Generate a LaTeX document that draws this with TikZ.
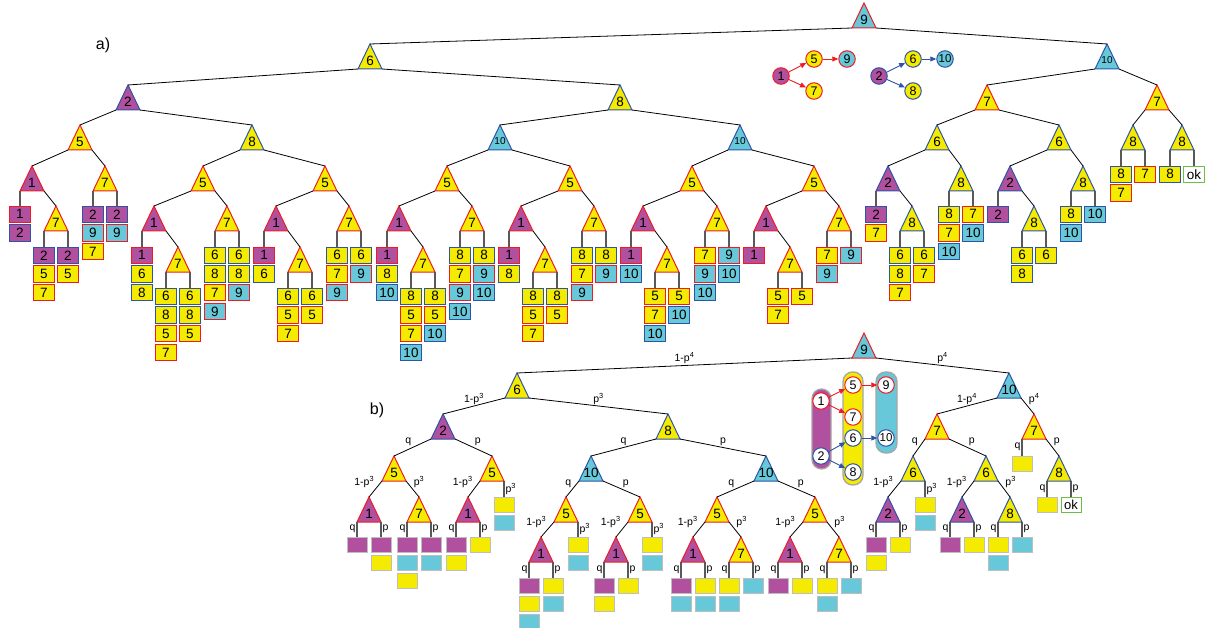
\documentclass[tikz,border=0pt]{standalone}
\usepackage{fontspec}
\setmainfont{Liberation Sans}
\usetikzlibrary{arrows.meta}
\definecolor{cpur}{RGB}{178,80,160}
\definecolor{cyel}{RGB}{245,235,0}
\definecolor{ccya}{RGB}{102,200,216}
\definecolor{cred}{RGB}{237,28,36}
\definecolor{cblu}{RGB}{46,84,166}
\definecolor{cgrn}{RGB}{110,190,70}
\definecolor{cgry}{RGB}{190,190,190}

\tikzset{
  n1/.style={fill=cpur,draw=cred},
  n2/.style={fill=cpur,draw=cblu},
  n5/.style={fill=cyel,draw=cred},
  n6/.style={fill=cyel,draw=cblu},
  n7/.style={fill=cyel,draw=cred},
  n8/.style={fill=cyel,draw=cblu},
  n9/.style={fill=ccya,draw=cred},
  n10/.style={fill=ccya,draw=cblu},
  nok/.style={fill=white,draw=cgrn},
  bP/.style={fill=cpur},
  bY/.style={fill=cyel},
  bC/.style={fill=ccya},
  tri/.style={line width=1pt,line join=miter},
  tree/.style={draw=black,line width=0.8pt},
  leaf/.style={draw=black!65,line width=1.2pt},
  trilbl/.style={font=\fontsize{13.5}{13.5}\selectfont,inner sep=0pt},
  trismall/.style={font=\fontsize{10}{10}\selectfont,inner sep=0pt},
  abox/.style={rectangle,minimum width=21pt,minimum height=16.5pt,inner sep=0pt,
    line width=1pt,font=\fontsize{13.5}{13.5}\selectfont},
  bbox/.style={rectangle,minimum width=20pt,minimum height=15pt,inner sep=0pt,
    line width=1pt,draw=cgry},
  lbl/.style={font=\fontsize{10.5}{10.5}\selectfont,inner sep=1pt},
  lt/.style={lbl,above},
  ll/.style={lbl,anchor=south east},
  lr/.style={lbl,anchor=south west},
  vl/.style={lbl,left},
  vr/.style={lbl,right},
  gnode/.style={circle,minimum size=16.5pt,inner sep=0pt,line width=1pt,
    font=\fontsize{12.5}{12.5}\selectfont},
  garr/.style={line width=0.9pt,-{Triangle[length=6pt,width=5pt]}},
  column/.style={rounded corners=9.5pt,draw=black!35,line width=1.3pt},
  partlbl/.style={font=\fontsize{16}{16}\selectfont,inner sep=0pt}
}

% triangle: [label style] name, apex x, apex y, value
\newcommand{\tri}[5][trilbl]{%
  \coordinate (#2) at (#3,#4);
  \coordinate (#2-l) at (#3-12,#4+25);
  \coordinate (#2-r) at (#3+12,#4+25);
  \filldraw[tri,n#5] (#2) -- (#2-l) -- (#2-r) -- cycle;
  \node[#1] (#2-t) at (#3,#4+16.5) {#5};
}
% tree edge
\newcommand{\edge}[2]{\draw[tree] (#1) -- (#2);}
% labelled tree edge
\newcommand{\ledge}[4]{\draw[tree] (#1) -- node[#3] {#4} (#2);}
% numbered stack: corner, name, x, top y, values
\newcommand{\leafA}[5]{%
  \foreach \v [count=\i from 0] in {#5}{%
    \node[abox,n\v] (#2-\i) at (#3,#4+8.3+18.7*\i) {\v};}
  \draw[leaf] (#1) -- (#2-0.north);
}
% plain stack: corner, name, x, top y, colours, label style, label
\newcommand{\leafB}[7]{%
  \foreach \v [count=\i from 0] in {#5}{%
    \node[bbox,b\v] (#2-\i) at (#3,#4+7.5+18.3*\i) {};}
  \draw[leaf] (#1) -- node[#6] {#7} (#2-0.north);
}
\newcommand{\lomp}[1]{1-p\textsuperscript{#1}}
\newcommand{\lpw}[1]{p\textsuperscript{#1}}

\begin{document}
\begin{tikzpicture}[x=1pt,y=-1pt]
\path[use as bounding box] (0,0) rectangle (1206,628);

% ================= a) =================
\node[partlbl] (la) at (103,45) {a)};

\tri{r}{864}{3}{9}
\tri{a}{370}{44}{6}
\tri[trismall]{b}{1107}{44}{10}
\tri{aa}{128}{85}{2}
\tri{ab}{620}{85}{8}
\tri{aaa}{80}{125}{5}
\tri{aab}{252}{125}{8}
\tri{aaaa}{32}{166}{1}
\tri{aaaab}{56}{206}{7}
\tri{aaab}{105}{166}{7}
\tri{aaba}{203}{166}{5}
\tri{aabaa}{154}{206}{1}
\tri{aabaab}{178}{247}{7}
\tri{aabab}{227}{206}{7}
\tri{aabb}{325}{166}{5}
\tri{aabba}{276}{206}{1}
\tri{aabbab}{300}{247}{7}
\tri{aabbb}{349}{206}{7}
\tri[trismall]{aba}{500}{125}{10}
\tri{abaa}{447}{166}{5}
\tri{abaaa}{399}{206}{1}
\tri{abaaab}{423}{247}{7}
\tri{abaab}{472}{206}{7}
\tri{abab}{570}{166}{5}
\tri{ababa}{521}{206}{1}
\tri{ababab}{545}{247}{7}
\tri{ababb}{594}{206}{7}
\tri[trismall]{abb}{740}{125}{10}
\tri{abba}{692}{166}{5}
\tri{abbaa}{643}{206}{1}
\tri{abbaab}{667}{247}{7}
\tri{abbab}{717}{206}{7}
\tri{abbb}{814}{166}{5}
\tri{abbba}{766}{206}{1}
\tri{abbbab}{790}{247}{7}
\tri{abbbb}{839}{206}{7}
\tri{ba}{987}{85}{7}
\tri{baa}{937}{125}{6}
\tri{baaa}{888}{166}{2}
\tri{baaab}{912}{206}{8}
\tri{baab}{961}{166}{8}
\tri{bab}{1059}{125}{6}
\tri{baba}{1010}{166}{2}
\tri{babab}{1034}{206}{8}
\tri{babb}{1083}{166}{8}
\tri{bb}{1157}{85}{7}
\tri{bba}{1133}{125}{8}
\tri{bbb}{1182}{125}{8}

\edge{r-l}{a} \edge{r-r}{b}
\edge{a-l}{aa} \edge{a-r}{ab}
\edge{aa-l}{aaa} \edge{aa-r}{aab}
\edge{aaa-l}{aaaa} \edge{aaa-r}{aaab}
\edge{aaaa-r}{aaaab}
\edge{aab-l}{aaba} \edge{aab-r}{aabb}
\edge{aaba-l}{aabaa} \edge{aaba-r}{aabab}
\edge{aabaa-r}{aabaab}
\edge{aabb-l}{aabba} \edge{aabb-r}{aabbb}
\edge{aabba-r}{aabbab}
\edge{ab-l}{aba} \edge{ab-r}{abb}
\edge{aba-l}{abaa} \edge{aba-r}{abab}
\edge{abaa-l}{abaaa} \edge{abaa-r}{abaab}
\edge{abaaa-r}{abaaab}
\edge{abab-l}{ababa} \edge{abab-r}{ababb}
\edge{ababa-r}{ababab}
\edge{abb-l}{abba} \edge{abb-r}{abbb}
\edge{abba-l}{abbaa} \edge{abba-r}{abbab}
\edge{abbaa-r}{abbaab}
\edge{abbb-l}{abbba} \edge{abbb-r}{abbbb}
\edge{abbba-r}{abbbab}
\edge{b-l}{ba} \edge{b-r}{bb}
\edge{ba-l}{baa} \edge{ba-r}{bab}
\edge{baa-l}{baaa} \edge{baa-r}{baab}
\edge{baaa-r}{baaab}
\edge{bab-l}{baba} \edge{bab-r}{babb}
\edge{baba-r}{babab}
\edge{bb-l}{bba} \edge{bb-r}{bbb}

\leafA{aaaa-l}{s01}{20}{206}{1,2}
\leafA{aaaab-l}{s02}{44}{247}{2,5,7}
\leafA{aaaab-r}{s03}{68}{247}{2,5}
\leafA{aaab-l}{s04}{93}{206}{2,9,7}
\leafA{aaab-r}{s05}{117}{206}{2,9}
\leafA{aabaa-l}{s06}{142}{247}{1,6,8}
\leafA{aabaab-l}{s07}{166}{288}{6,8,5,7}
\leafA{aabaab-r}{s08}{190}{288}{6,8,5}
\leafA{aabab-l}{s09}{215}{247}{6,8,7,9}
\leafA{aabab-r}{s10}{239}{247}{6,8,9}
\leafA{aabba-l}{s11}{264}{247}{1,6}
\leafA{aabbab-l}{s12}{288}{288}{6,5,7}
\leafA{aabbab-r}{s13}{312}{288}{6,5}
\leafA{aabbb-l}{s14}{337}{247}{6,7,9}
\leafA{aabbb-r}{s15}{361}{247}{6,9}
\leafA{abaaa-l}{s16}{387}{247}{1,8,10}
\leafA{abaaab-l}{s17}{411}{288}{8,5,7,10}
\leafA{abaaab-r}{s18}{435}{288}{8,5,10}
\leafA{abaab-l}{s19}{460}{247}{8,7,9,10}
\leafA{abaab-r}{s20}{484}{247}{8,9,10}
\leafA{ababa-l}{s21}{509}{247}{1,8}
\leafA{ababab-l}{s22}{533}{288}{8,5,7}
\leafA{ababab-r}{s23}{557}{288}{8,5}
\leafA{ababb-l}{s24}{582}{247}{8,7,9}
\leafA{ababb-r}{s25}{606}{247}{8,9}
\leafA{abbaa-l}{s26}{631}{247}{1,10}
\leafA{abbaab-l}{s27}{655}{288}{5,7,10}
\leafA{abbaab-r}{s28}{679}{288}{5,10}
\leafA{abbab-l}{s29}{705}{247}{7,9,10}
\leafA{abbab-r}{s30}{729}{247}{9,10}
\leafA{abbba-l}{s31}{754}{247}{1}
\leafA{abbbab-l}{s32}{778}{288}{5,7}
\leafA{abbbab-r}{s33}{802}{288}{5}
\leafA{abbbb-l}{s34}{827}{247}{7,9}
\leafA{abbbb-r}{s35}{851}{247}{9}
\leafA{baaa-l}{s36}{876}{206}{2,7}
\leafA{baaab-l}{s37}{900}{247}{6,8,7}
\leafA{baaab-r}{s38}{924}{247}{6,7}
\leafA{baab-l}{s39}{949}{206}{8,7,10}
\leafA{baab-r}{s40}{973}{206}{7,10}
\leafA{baba-l}{s41}{998}{206}{2}
\leafA{babab-l}{s42}{1022}{247}{6,8}
\leafA{babab-r}{s43}{1046}{247}{6}
\leafA{babb-l}{s44}{1071}{206}{8,10}
\leafA{babb-r}{s45}{1095}{206}{10}
\leafA{bba-l}{s46}{1121}{166}{8,7}
\leafA{bba-r}{s47}{1145}{166}{7}
\leafA{bbb-l}{s48}{1170}{166}{8}
\leafA{bbb-r}{s49}{1194}{166}{ok}

% precedence graph
\node[gnode,n1] (g1) at (781,76) {1};
\node[gnode,n5] (g5) at (814,59) {5};
\node[gnode,n9] (g9) at (847,59) {9};
\node[gnode,n7] (g7) at (814,91) {7};
\node[gnode,n2] (g2) at (879,76) {2};
\node[gnode,n6] (g6) at (913,59) {6};
\node[gnode,n10,font=\fontsize{11.5}{11.5}\selectfont] (g10) at (945,59) {10};
\node[gnode,n8] (g8) at (913,91) {8};
\draw[garr,cred] (g1) -- (g5);
\draw[garr,cred] (g1) -- (g7);
\draw[garr,cred] (g5) -- (g9);
\draw[garr,cblu] (g2) -- (g6);
\draw[garr,cblu] (g2) -- (g8);
\draw[garr,cblu] (g6) -- (g10);

% ================= b) =================
\node[partlbl] (lb) at (377,410) {b)};

\tri{R}{864}{333}{9}
\tri{Ra}{517}{373}{6}
\tri{Rb}{1009}{373}{10}
\tri{Raa}{443}{414}{2}
\tri{Rab}{668}{414}{8}
\tri{Raaa}{394}{456}{5}
\tri{Raab}{492}{456}{5}
\tri{Raaaa}{369}{497}{1}
\tri{Raaab}{419}{497}{7}
\tri{Raaba}{468}{497}{1}
\tri{Raba}{591}{456}{10}
\tri{Rabb}{766}{456}{10}
\tri{Rabaa}{566}{497}{5}
\tri{Rabab}{640}{497}{5}
\tri{Rabaaa}{541}{537}{1}
\tri{Rababa}{616}{537}{1}
\tri{Rabba}{717}{497}{5}
\tri{Rabbb}{815}{497}{5}
\tri{Rabbaa}{693}{537}{1}
\tri{Rabbab}{741}{537}{7}
\tri{Rabbba}{790}{537}{1}
\tri{Rabbbb}{839}{537}{7}
\tri{Rba}{937}{414}{7}
\tri{Rbb}{1034}{414}{7}
\tri{Rbaa}{913}{456}{6}
\tri{Rbab}{986}{456}{6}
\tri{Rbaaa}{888}{497}{2}
\tri{Rbaba}{962}{497}{2}
\tri{Rbabb}{1010}{497}{8}
\tri{Rbbb}{1059}{456}{8}

\ledge{R-l}{Ra}{lt}{\lomp{4}}
\ledge{R-r}{Rb}{lt}{\lpw{4}}
\ledge{Ra-l}{Raa}{lt}{\lomp{3}}
\ledge{Ra-r}{Rab}{lt}{\lpw{3}}
\ledge{Raa-l}{Raaa}{ll}{q}
\ledge{Raa-r}{Raab}{lr}{p}
\ledge{Raaa-l}{Raaaa}{ll}{\lomp{3}}
\ledge{Raaa-r}{Raaab}{lr}{\lpw{3}}
\ledge{Raab-l}{Raaba}{ll}{\lomp{3}}
\ledge{Rab-l}{Raba}{lt}{q}
\ledge{Rab-r}{Rabb}{lt}{p}
\ledge{Raba-l}{Rabaa}{ll}{q}
\ledge{Raba-r}{Rabab}{lr}{p}
\ledge{Rabaa-l}{Rabaaa}{ll}{\lomp{3}}
\ledge{Rabab-l}{Rababa}{ll}{\lomp{3}}
\ledge{Rabb-l}{Rabba}{ll}{q}
\ledge{Rabb-r}{Rabbb}{lr}{p}
\ledge{Rabba-l}{Rabbaa}{ll}{\lomp{3}}
\ledge{Rabba-r}{Rabbab}{lr}{\lpw{3}}
\ledge{Rabbb-l}{Rabbba}{ll}{\lomp{3}}
\ledge{Rabbb-r}{Rabbbb}{lr}{\lpw{3}}
\ledge{Rb-l}{Rba}{lt}{\lomp{4}}
\ledge{Rb-r}{Rbb}{lr}{\lpw{4}}
\ledge{Rba-l}{Rbaa}{ll}{q}
\ledge{Rba-r}{Rbab}{lr}{p}
\ledge{Rbaa-l}{Rbaaa}{ll}{\lomp{3}}
\ledge{Rbab-l}{Rbaba}{ll}{\lomp{3}}
\ledge{Rbab-r}{Rbabb}{lr}{\lpw{3}}
\ledge{Rbb-r}{Rbbb}{lr}{p}

\leafB{Raaaa-l}{t01}{357}{537}{P}{vl}{q}
\leafB{Raaaa-r}{t02}{381}{537}{P,Y}{vr}{p}
\leafB{Raaab-l}{t03}{407}{537}{P,C,Y}{vl}{q}
\leafB{Raaab-r}{t04}{431}{537}{P,C}{vr}{p}
\leafB{Raaba-l}{t05}{456}{537}{P,Y}{vl}{q}
\leafB{Raaba-r}{t06}{480}{537}{Y}{vr}{p}
\leafB{Raab-r}{t07}{504}{497}{Y,C}{vr}{\lpw{3}}
\leafB{Rabaaa-l}{t08}{529}{578}{P,Y,C}{vl}{q}
\leafB{Rabaaa-r}{t09}{553}{578}{Y,C}{vr}{p}
\leafB{Rabaa-r}{t10}{578}{537}{Y,C}{vr}{\lpw{3}}
\leafB{Rababa-l}{t11}{604}{578}{P,Y}{vl}{q}
\leafB{Rababa-r}{t12}{628}{578}{Y}{vr}{p}
\leafB{Rabab-r}{t13}{652}{537}{Y,C}{vr}{\lpw{3}}
\leafB{Rabbaa-l}{t14}{681}{578}{P,C}{vl}{q}
\leafB{Rabbaa-r}{t15}{705}{578}{Y,C}{vr}{p}
\leafB{Rabbab-l}{t16}{729}{578}{Y,C}{vl}{q}
\leafB{Rabbab-r}{t17}{753}{578}{C}{vr}{p}
\leafB{Rabbba-l}{t18}{778}{578}{P}{vl}{q}
\leafB{Rabbba-r}{t19}{802}{578}{Y}{vr}{p}
\leafB{Rabbbb-l}{t20}{827}{578}{Y,C}{vl}{q}
\leafB{Rabbbb-r}{t21}{851}{578}{C}{vr}{p}
\leafB{Rbaaa-l}{t22}{876}{537}{P,Y}{vl}{q}
\leafB{Rbaaa-r}{t23}{900}{537}{Y}{vr}{p}
\leafB{Rbaa-r}{t24}{925}{497}{Y,C}{vr}{\lpw{3}}
\leafB{Rbaba-l}{t25}{950}{537}{P}{vl}{q}
\leafB{Rbaba-r}{t26}{974}{537}{Y}{vr}{p}
\leafB{Rbabb-l}{t27}{998}{537}{Y,C}{vl}{q}
\leafB{Rbabb-r}{t28}{1022}{537}{C}{vr}{p}
\leafB{Rbb-l}{t29}{1022}{456}{Y}{vl}{q}
\leafB{Rbbb-l}{t30}{1047}{497}{Y}{vl}{q}
\node[bbox,nok,font=\fontsize{13}{13}\selectfont] (t31) at (1071,504.5) {ok};
\draw[leaf] (Rbbb-r) -- node[vr] {p} (t31.north);

% grouped precedence graph
\draw[column,fill=cpur] (812,389) rectangle (831,469);
\draw[column,fill=cyel] (843,372) rectangle (863,485);
\draw[column,fill=ccya] (876,372) rectangle (897,453);
\node[gnode,fill=white,draw=cred] (h1) at (821,401) {1};
\node[gnode,fill=white,draw=cblu] (h2) at (821,456) {2};
\node[gnode,fill=white,draw=cred] (h5) at (853,385) {5};
\node[gnode,fill=white,draw=cred] (h7) at (853,417) {7};
\node[gnode,fill=white,draw=cblu] (h6) at (853,438) {6};
\node[gnode,fill=white,draw=cblu] (h8) at (853,472) {8};
\node[gnode,fill=white,draw=cred] (h9) at (886,385) {9};
\node[gnode,fill=white,draw=cblu,font=\fontsize{11.5}{11.5}\selectfont] (h10) at (886,438) {10};
\draw[garr,cred] (h1) -- (h5);
\draw[garr,cred] (h1) -- (h7);
\draw[garr,cred] (h5) -- (h9);
\draw[garr,cblu] (h2) -- (h6);
\draw[garr,cblu] (h2) -- (h8);
\draw[garr,cblu] (h6) -- (h10);
\end{tikzpicture}
\end{document}
